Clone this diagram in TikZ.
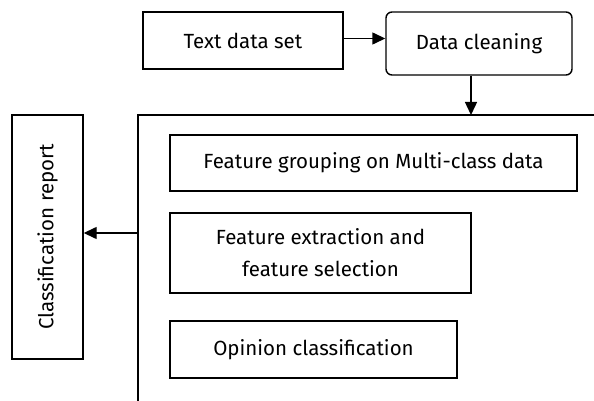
\documentclass[tikz,border=0pt]{standalone}
\usepackage{fontspec}
\setmainfont{Fira Sans}
\usetikzlibrary{positioning, arrows.meta}

\begin{document}
\begin{tikzpicture}[x=1pt, y=-1pt,
    khoi/.style={draw, line width=1.4pt, inner sep=0pt, align=center, font=\fontsize{20.5}{32}\selectfont},
    muiten/.style={-{Triangle[length=13pt, width=12pt]}, line width=1.4pt}]
    \useasboundingbox (0,0) rectangle (594,401);

    % 1. Hai khối ở trên
    \node[khoi, minimum width=200pt, minimum height=57pt] (textdata) at (243, 40.5) {Text data set};
    \node[khoi, rounded corners=6pt, minimum width=186pt, minimum height=63pt] (cleaning) at (479, 43.5) {Data cleaning};
    \coordinate (phai) at ([yshift=2pt]textdata.east);
    \draw[muiten] (phai) -- (phai -| cleaning.west);

    % 2. Khung lớn (bị cắt ở bên phải và bên dưới)
    \coordinate (khungTL) at (138, 115);
    \coordinate (khungTR) at (594, 115);
    \coordinate (khungBL) at (138, 401);
    \draw[line width=1.4pt] (khungTR) -- (khungTL) -- (khungBL);
    \coordinate (xuong) at ([xshift=-8pt]cleaning.south);
    \draw[muiten] (xuong) -- (xuong |- khungTL);

    % 3. Các khối bên trong khung
    \node[khoi, minimum width=407pt, minimum height=56pt] (grouping) at (373.5, 163) {Feature grouping on Multi-class data};
    \node[khoi, minimum width=301pt, minimum height=80pt] (extraction) at (320.5, 253) {Feature extraction and\\feature selection};
    \node[khoi, minimum width=287pt, minimum height=57pt] (opinion) at (313.5, 349.5) {Opinion classification};

    % 4. Khối báo cáo (chữ xoay dọc) và mũi tên sang trái
    \node[khoi, rotate=90, minimum width=244pt, minimum height=71pt] (report) at (47.5, 237) {Classification report};
    \coordinate (trai) at (138, 233);
    \draw[muiten] (trai) -- (trai -| report.south);

\end{tikzpicture}
\end{document}
